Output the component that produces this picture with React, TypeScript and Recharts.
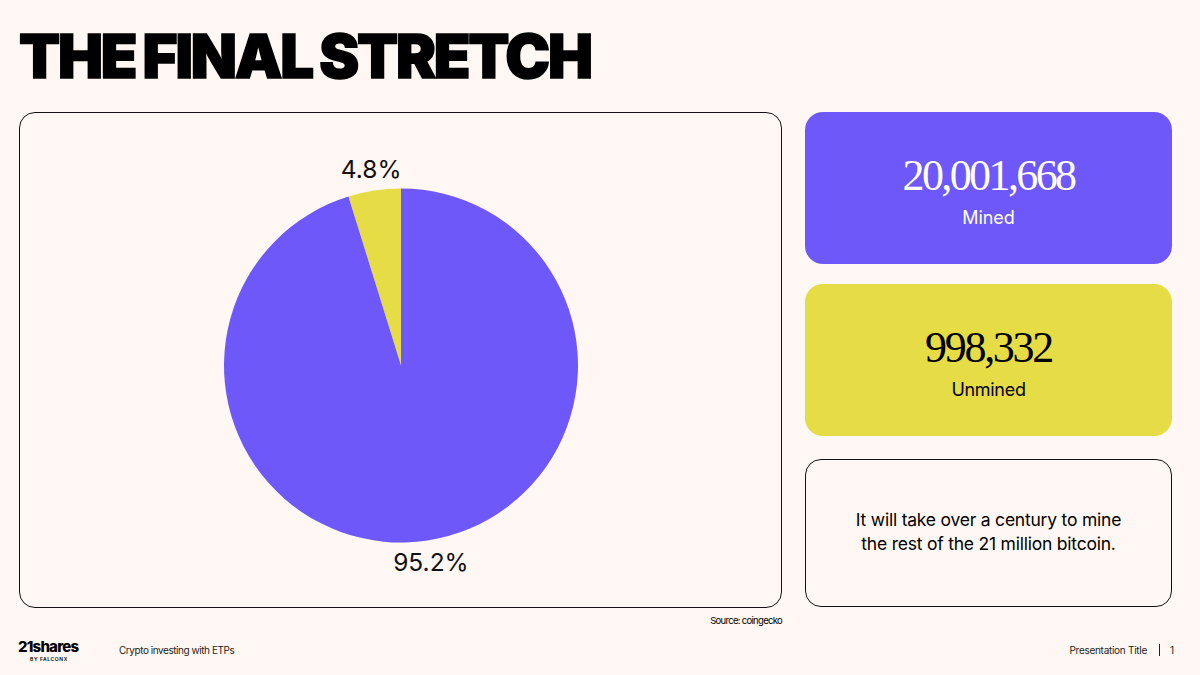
import React from "react";
import { PieChart, Pie, Cell } from "recharts";

const categories = ["Unmined", "Mined"];
const shares = [4.8, 95.2];
const sliceColors = ["#E6DC45", "#6E58FA"];
const pieData = categories.map((name, i) => ({ name, value: shares[i] }));
const sans = "'Inter', 'Noto Sans', sans-serif";

const box = (l: number, t: number, w: number, h: number, extra: React.CSSProperties = {}): React.CSSProperties => ({
  position: "absolute", left: l, top: t, width: w, height: h, boxSizing: "border-box", borderRadius: 16, ...extra,
});
const txt = (l: number, t: number, w: number, size: number, extra: React.CSSProperties = {}): React.CSSProperties => ({
  position: "absolute", left: l, top: t, width: w, fontSize: size, fontFamily: sans, color: "#000", whiteSpace: "nowrap", ...extra,
});

export default function App() {
  return (
    <div style={{ position: "fixed", left: 0, top: 0, width: 1200, height: 675, background: "#FFF7F3", overflow: "hidden" }}>
      <div style={txt(19, 18, 700, 60, { fontFamily: "'Inter', sans-serif", fontWeight: 900, lineHeight: "76px", letterSpacing: -2.2, wordSpacing: -2.5, WebkitTextStroke: "1.5px #000" })}>THE FINAL STRETCH</div>
      <div style={box(19, 112, 763, 496, { border: "1px solid #111" })} />
      <div style={{ position: "absolute", left: 19, top: 112 }}>
        <PieChart width={763} height={496}>
          <Pie data={pieData} dataKey="value" cx={377} cy={248.5} outerRadius={177} innerRadius={0} startAngle={90} endAngle={450} stroke="none" isAnimationActive={false} labelLine={false}
            label={(p: any) => {
              const RAD = Math.PI / 180;
              const r = p.outerRadius + 22;
              const x = p.cx + r * Math.cos(-p.midAngle * RAD);
              const y = p.cy + r * Math.sin(-p.midAngle * RAD);
              return <text x={x} y={y} textAnchor="middle" dominantBaseline="central" fontSize={24.5} fontFamily={sans} fill="#111">{p.value.toFixed(1)}%</text>;
            }}>
            {pieData.map((d, i) => <Cell key={d.name} fill={sliceColors[i]} />)}
          </Pie>
        </PieChart>
      </div>
      <div style={box(805, 112, 367, 152, { background: "#6E58FA", borderRadius: 18 })} />
      <div style={txt(805, 149, 367, 44, { textAlign: "center", color: "#fff", fontFamily: "'Liberation Serif', serif", letterSpacing: -2.6, lineHeight: "54px" })}>20,001,668</div>
      <div style={txt(805, 206, 367, 18, { textAlign: "center", color: "#fff", lineHeight: "24px", letterSpacing: -0.1 })}>Mined</div>
      <div style={box(805, 284, 367, 152, { background: "#E6DC45", borderRadius: 18 })} />
      <div style={txt(805, 321, 367, 44, { textAlign: "center", fontFamily: "'Liberation Serif', serif", letterSpacing: -2.3, lineHeight: "54px" })}>998,332</div>
      <div style={txt(805, 378, 367, 18, { textAlign: "center", lineHeight: "24px", letterSpacing: -0.3 })}>Unmined</div>
      <div style={box(805, 459, 367, 148, { border: "1px solid #111" })} />
      <div style={txt(805, 508, 367, 17.5, { textAlign: "center", lineHeight: "24px", letterSpacing: -0.22 })}>It will take over a century to mine<br />the rest of the 21 million bitcoin.</div>
      <div style={txt(582, 614, 200, 9.5, { textAlign: "right", lineHeight: "14px", letterSpacing: -0.7 })}>Source: coingecko</div>
      <div style={txt(18, 637, 70, 15, { fontWeight: 800, letterSpacing: -0.8, lineHeight: "20px" })}>21shares</div>
      <div style={txt(30, 656, 60, 5, { fontWeight: 600, letterSpacing: 0.6, lineHeight: "7px" })}>BY FALCONX</div>
      <div style={txt(119, 643, 200, 10, { lineHeight: "14px", letterSpacing: -0.45, color: "#222" })}>Crypto investing with ETPs</div>
      <div style={txt(947, 643, 200, 10, { textAlign: "right", lineHeight: "14px", letterSpacing: -0.28, color: "#222" })}>Presentation Title</div>
      <div style={{ position: "absolute", left: 1159, top: 644, width: 1, height: 12, background: "#222" }} />
      <div style={txt(1170, 643, 10, 10, { lineHeight: "14px", color: "#222" })}>1</div>
    </div>
  );
}
